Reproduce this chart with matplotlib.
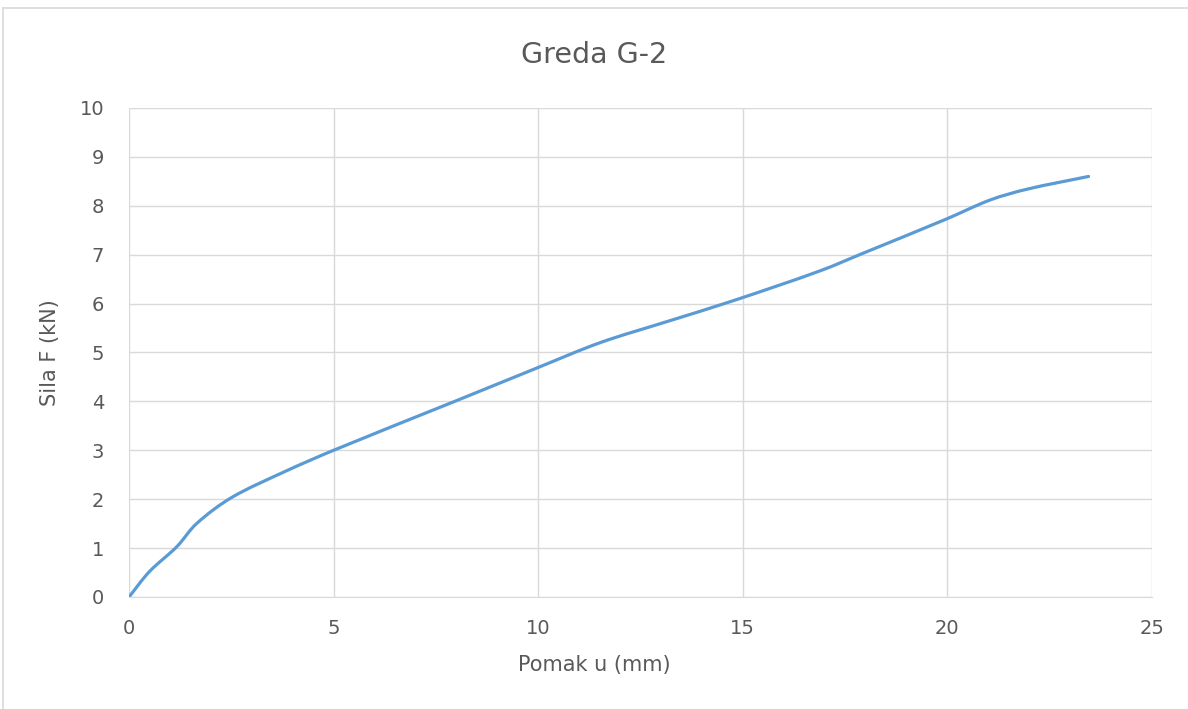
import numpy as np
import matplotlib.pyplot as plt
from matplotlib.lines import Line2D
from matplotlib.path import Path
from matplotlib.patches import PathPatch

plt.rcParams['font.family'] = ['DejaVu Sans']

pomak = [0, 0.5, 1.17, 1.65, 2.5, 3.77, 5.0, 7.93, 9.96, 11.51, 13.14,
         14.77, 16.89, 17.94, 19.95, 21.05, 21.95, 23.45]
sila = [0, 0.52, 1.03, 1.5, 2.03, 2.55, 3.0, 3.99, 4.68, 5.2, 5.63,
        6.06, 6.67, 7.03, 7.72, 8.12, 8.34, 8.60]

text_col = '#595959'
grid_col = '#D9D9D9'
line_col = '#5B9BD5'

fig = plt.figure(figsize=(11.88, 7.09), dpi=100)
ax = fig.add_axes([0.1086, 0.158, 0.8611, 0.6897])

# smoothed line: cubic bezier through the points, tangents taken in screen-like units
sx, sy = 40.9, 48.9
p = np.column_stack([np.array(pomak) * sx, np.array(sila) * sy])
n = len(p)
tang = np.zeros_like(p)
for i in range(n):
    a = p[max(i - 1, 0)]
    b = p[min(i + 1, n - 1)]
    d = b - a
    tang[i] = d / np.hypot(*d)
verts = [tuple(p[0])]
codes = [Path.MOVETO]
for i in range(n - 1):
    L = np.hypot(*(p[i + 1] - p[i])) / 3
    verts += [tuple(p[i] + tang[i] * L), tuple(p[i + 1] - tang[i + 1] * L), tuple(p[i + 1])]
    codes += [Path.CURVE4] * 3
verts = [(vx / sx, vy / sy) for vx, vy in verts]
ax.add_patch(PathPatch(Path(verts, codes), fill=False, edgecolor=line_col, lw=2.3,
                       capstyle='round', joinstyle='round'))

ax.set_xlim(0, 25)
ax.set_ylim(0, 10)
ax.set_xticks(np.arange(0, 26, 5))
ax.set_yticks(np.arange(0, 11, 1))
ax.grid(True, color=grid_col, lw=1)
ax.set_axisbelow(True)
for s in ax.spines.values():
    s.set_visible(False)
ax.spines['bottom'].set_visible(True)
ax.spines['bottom'].set_color(grid_col)
ax.tick_params(length=0, labelsize=14, labelcolor=text_col)
ax.tick_params(axis='x', pad=16)
ax.tick_params(axis='y', pad=18)

ax.set_xlabel('Pomak u (mm)', fontsize=15, color=text_col)
ax.set_ylabel('Sila F (kN)', fontsize=15, color=text_col)
ax.xaxis.set_label_coords(0.5, 1 - 655 / 709, transform=fig.transFigure)
ax.yaxis.set_label_coords(60 / 1188, 0.5 * (1 - 108 / 709 + 1 - 597 / 709), transform=fig.transFigure)
fig.text(0.5, 1 - 55 / 709, 'Greda G-2', ha='center', va='center', fontsize=20.5, color=text_col)

# chart area border
fig.add_artist(Line2D([3 / 1188, 1.0], [1 - 8 / 709, 1 - 8 / 709], color=grid_col, lw=1.2))
fig.add_artist(Line2D([3 / 1188, 3 / 1188], [0.0, 1 - 8 / 709], color=grid_col, lw=1.2))

fig.savefig('out.png', dpi=100)
